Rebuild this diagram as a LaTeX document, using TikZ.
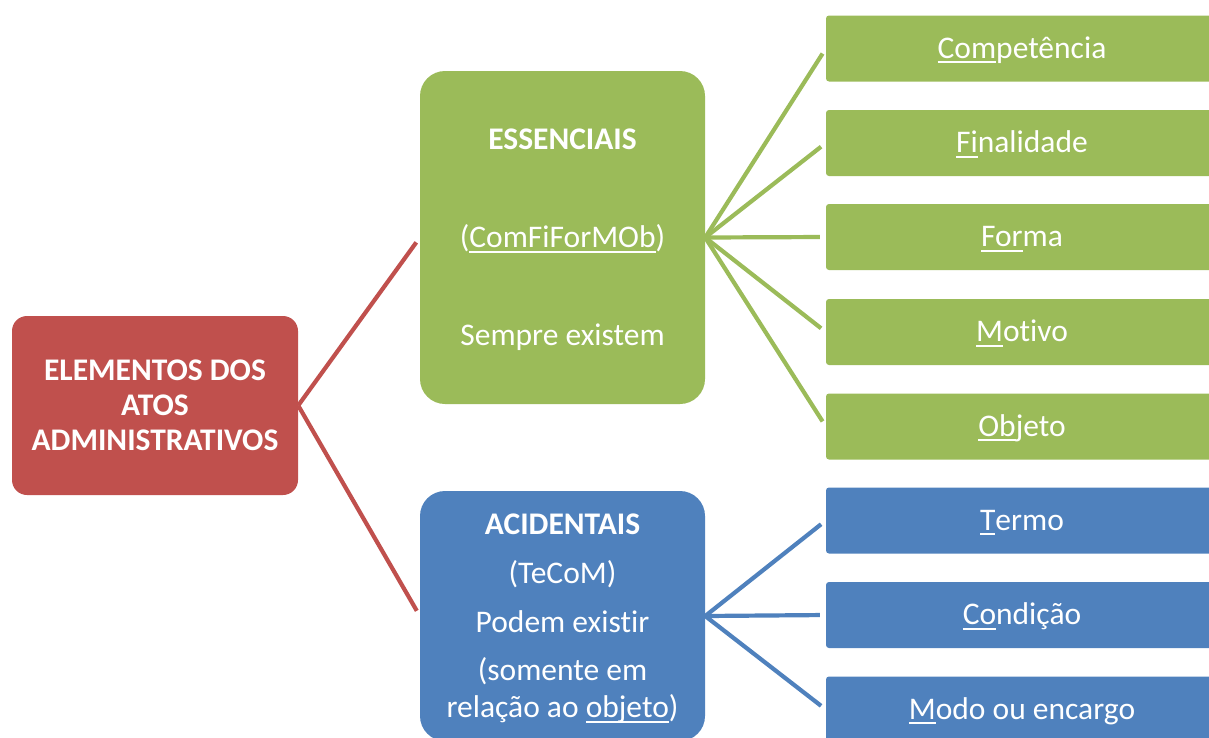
\documentclass[tikz,border=0pt]{standalone}
\usepackage{fontspec}
\setmainfont{Carlito}[Ligatures={NoCommon,NoContextual}]
\definecolor{cred}{HTML}{C0504D}
\definecolor{cgreen}{HTML}{9BBB59}
\definecolor{cblue}{HTML}{4F81BD}
\newcommand\myul[1]{\leavevmode\setbox0\hbox{#1}\rlap{\rule[-5pt]{\wd0}{1.8pt}}\box0}
\begin{document}
\begin{tikzpicture}[x=1pt,y=-1pt,
  txt/.style={text=white, font=\fontsize{31.5pt}{37pt}\selectfont, align=center, inner sep=0pt},
  bigbox/.style={txt, rounded corners=25pt, minimum width=285pt, text depth=0pt},
  leaf/.style={txt, rounded corners=3pt, minimum width=392pt, minimum height=66pt, text height=19pt, text depth=0pt},
  conn/.style={line width=4.2pt, shorten >=6pt}]
\useasboundingbox (0,0) rectangle (1209,737);
\clip (0,0) rectangle (1209,737);
\node[txt, fill=cred, rounded corners=15pt, minimum width=286pt, minimum height=179pt,
      font=\bfseries\fontsize{31.5pt}{35pt}\selectfont] (root) at (155,405.5)
      {ELEMENTOS DOS\\ATOS\\ADMINISTRATIVOS};
\node[bigbox, fill=cgreen, minimum height=333pt] (ess) at (562.5,237.5)
      {\textbf{ESSENCIAIS}\\[61pt](\myul{ComFiForMOb})\\[61pt]Sempre existem};
\node[bigbox, fill=cblue, minimum height=250pt] (acc) at (562.5,616)
      {\textbf{ACIDENTAIS}\\[12pt](TeCoM)\\[12pt]Podem existir\\[11pt](somente em\\relação ao \myul{objeto})};
\node[leaf, fill=cgreen] (comp) at (1022,48.5) {\myul{Com}petência};
\node[leaf, fill=cgreen] (fin) at (1022,143) {\myul{Fi}nalidade};
\node[leaf, fill=cgreen] (forma) at (1022,237) {\myul{For}ma};
\node[leaf, fill=cgreen] (mot) at (1022,332) {\myul{M}otivo};
\node[leaf, fill=cgreen] (obj) at (1022,426.5) {\myul{Ob}jeto};
\node[leaf, fill=cblue] (termo) at (1022,520.5) {\myul{T}ermo};
\node[leaf, fill=cblue] (cond) at (1022,615) {\myul{Co}ndição};
\node[leaf, fill=cblue] (modo) at (1022,709.5) {\myul{M}odo ou encargo};
\draw[conn, cred] (root.east) -- (ess.west);
\draw[conn, cred] (root.east) -- (acc.west);
\foreach \n in {comp,fin,forma,mot,obj} \draw[conn,cgreen] (ess.east) -- (\n.west);
\foreach \n in {termo,cond,modo} \draw[conn,cblue] (acc.east) -- (\n.west);
\end{tikzpicture}
\end{document}
